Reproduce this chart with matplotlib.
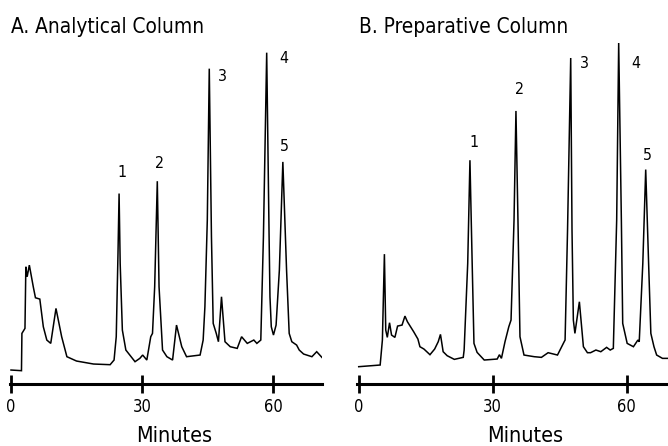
import matplotlib
matplotlib.use('Agg')
import matplotlib.pyplot as plt
from matplotlib import font_manager

# the reference uses a condensed sans face; use a narrow one if it is installed
font_files = font_manager.fontManager.ttflist
family_names = {f.name for f in font_files}
has_condensed = any('condensed' in str(f.stretch).lower() or 'Condensed' in f.fname
                    for f in font_files if f.name == 'DejaVu Sans')
if 'Liberation Sans Narrow' in family_names:
    plt.rcParams['font.family'] = ['Liberation Sans Narrow', 'DejaVu Sans']
    scale = 1.0
elif has_condensed:
    plt.rcParams['font.family'] = ['DejaVu Sans']
    plt.rcParams['font.stretch'] = 'condensed'
    scale = 0.88
else:
    plt.rcParams['font.family'] = ['DejaVu Sans']
    scale = 0.8

# Chromatogram traces (time in minutes, detector signal in arbitrary units)
time_a = [0, 2.4, 2.5, 3.2, 3.4, 3.7, 4.2, 5.1, 5.6, 6.6, 7.4, 8.2, 9.1, 10.3, 11.6, 12.8,
          15.0, 18.9, 22.7, 23.6, 24.1, 24.5, 24.75, 25.0, 25.5, 26.3, 28.4, 29.5, 30.15,
          31.1, 32.0, 32.4, 32.9, 33.5, 33.9, 34.7, 35.7, 37.0, 37.9, 39.1, 40.2, 43.3,
          44.0, 44.4, 44.95, 45.4, 45.9, 46.3, 47.0, 47.5, 48.2, 49.0, 50.2, 51.8, 52.8,
          54.1, 55.6, 56.3, 57.2, 57.8, 58.55, 59.1, 59.3, 59.6, 60.1, 60.7, 61.45, 62.25,
          63.1, 63.7, 64.3, 65.4, 66.0, 67.0, 68.9, 70.0, 71.4]
signal_a = [0, -0.2, 11, 12.5, 31, 28, 31.5, 25, 21.7, 21.3, 13, 9, 8, 18.5, 10, 4,
            2.7, 1.8, 1.6, 3, 10, 35, 53, 32, 12, 6, 2.5, 3.5, 4.5,
            3, 10, 11, 25, 56.7, 25, 6, 4, 3, 13.5, 7, 4, 4.5,
            9, 19, 45, 90.5, 40, 14, 11, 8.5, 22, 8.5, 7, 6.5, 10,
            8, 9, 8, 9, 40, 95.3, 40, 22, 13, 10.5, 13.5, 30, 62.5,
            30, 11, 8.5, 7.5, 6, 4.8, 4, 5.5, 3.5]

time_b = [0, 4.8, 5.3, 5.75, 6.05, 6.4, 6.9, 7.35, 8.1, 8.7, 9.7, 10.35, 10.9, 12.3, 13.25,
          13.7, 14.6, 15.95, 17.0, 17.8, 18.3, 18.9, 19.8, 21.4, 23.4, 23.6, 24.4, 24.9,
          25.4, 25.8, 26.5, 28.1, 31.0, 31.5, 31.95, 32.75, 33.6, 34.1, 34.77, 35.2, 35.65,
          36.1, 37.0, 39.3, 40.9, 42.4, 44.5, 46.0, 46.2, 46.75, 47.46, 47.75, 48.05, 48.4,
          49.4, 50.3, 51.2, 51.9, 53.1, 54.2, 55.5, 56.3, 57.0, 57.75, 58.2, 58.8, 59.1,
          60.1, 61.5, 62.5, 62.8, 63.6, 64.25, 64.9, 65.4, 66.1, 66.7, 68.0, 69.3]
signal_b = [1.0, 1.5, 9, 34.8, 12, 9.8, 14.2, 10.5, 9.8, 13.2, 13.5, 16.2, 14.5, 11.5, 9.3,
            7, 6.3, 4.6, 6.3, 8.5, 10.7, 5.5, 4.3, 3.2, 3.8, 6, 32, 63,
            32, 8, 5.3, 3, 3.3, 4.6, 3.5, 8.5, 13, 15, 45, 77.8, 45,
            10, 4.5, 4, 3.8, 5.2, 4.5, 8.5, 9, 42, 93.7, 42, 15, 11,
            20.5, 7, 5.2, 5.2, 6, 5.5, 6.8, 6, 6.5, 45, 98.2, 45, 14,
            8, 7, 9, 8.5, 32, 60.2, 32, 11, 7, 4.5, 3.5, 3.5]

peak_names = ['1', '2', '3', '4', '5']
label_pos_a = [(25.3, 59.2), (34.1, 62.1), (48.5, 88.2), (62.4, 93.6), (62.5, 67.2)]
label_pos_b = [(25.7, 68.2), (35.9, 84.2), (50.6, 92.0), (62.0, 92.0), (64.6, 64.5)]

titles = ['A. Analytical Column', 'B. Preparative Column']
xticks = [0, 30, 60]
xlabel = 'Minutes'

fig = plt.figure(figsize=(6.68, 4.46), dpi=100)
ax_a = fig.add_axes([0.0145, 0.139, 0.4681, 0.778])
ax_b = fig.add_axes([0.535, 0.139, 0.4654, 0.778])

panels = [
    (ax_a, time_a, signal_a, label_pos_a, (-0.3, 71.3), 0.0165),
    (ax_b, time_b, signal_b, label_pos_b, (-0.3, 69.3), 0.537),
]

for i, (ax, t, s, lpos, xlim, title_x) in enumerate(panels):
    ax.plot(t, s, color='black', linewidth=1.1, solid_joinstyle='miter')
    ax.set_xlim(*xlim)
    ax.set_ylim(-4.2, 100)

    for name, (x, y) in zip(peak_names, lpos):
        ax.text(x, y, name, fontsize=13 * scale, ha='center', va='center')

    for side in ['top', 'left', 'right']:
        ax.spines[side].set_visible(False)
    ax.spines['bottom'].set_linewidth(2.2)
    ax.set_yticks([])
    ax.set_xticks(xticks)
    ax.set_xticklabels([str(v) for v in xticks])
    ax.tick_params(axis='x', direction='inout', length=12.5, width=2, pad=4,
                   labelsize=13.5 * scale)
    ax.patch.set_visible(False)

    ax.text(37.3, -0.168, xlabel, fontsize=17.5 * scale, ha='center', va='baseline',
            transform=ax.get_xaxis_transform())
    fig.text(title_x, 0.926, titles[i], fontsize=17 * scale, ha='left', va='baseline')

fig.savefig('out.png', dpi=100)
